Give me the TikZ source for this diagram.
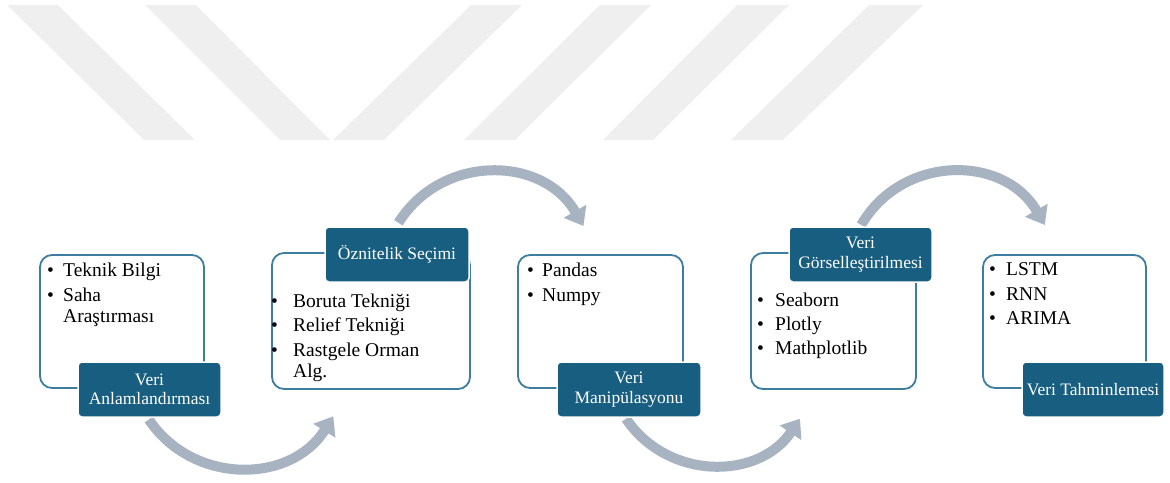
\documentclass[tikz,border=0pt]{standalone}
\usepackage{fontspec}
\setmainfont{Liberation Serif}
\usetikzlibrary{arrows.meta}

\definecolor{titlefill}{RGB}{23,94,128}
\definecolor{frameblue}{RGB}{60,125,160}
\definecolor{flowgrey}{RGB}{167,179,193}
\definecolor{markgrey}{RGB}{239,239,239}

% bullet line and its continuation line, with the text indent as option
\newcommand{\bitem}[2][16pt]{\makebox[#1][l]{•}#2}
\newcommand{\bcont}[2][16pt]{\hspace*{#1}#2}

\begin{document}
\begin{tikzpicture}[x=1pt,y=-1pt,
  listframe/.style={draw=frameblue,line width=1.8pt,rounded corners=12pt,fill=white,inner sep=0pt},
  titlebox/.style={fill=titlefill,draw=white,line width=1.5pt,rounded corners=4pt,inner sep=0pt,
    text=white,align=center,font=\fontsize{17.5}{19.5}\selectfont},
  listtext/.style={anchor=north west,inner sep=0pt,align=left,font=\fontsize{19.5}{21}\selectfont},
  flowarrow/.style={draw=flowgrey,line width=10pt,-{Triangle[width=25pt,length=17pt]}},
  wmark/.style={fill=markgrey}
]
\useasboundingbox (0,0) rectangle (1170,482);

% slanted bars in the header
\fill[wmark] (7,5) -- (58,5) -- (195,140) -- (144,140) -- cycle;
\fill[wmark] (145,5) -- (196,5) -- (330,140) -- (280,140) -- cycle;
\fill[wmark] (471,5) -- (522,5) -- (384,140) -- (333,140) -- cycle;
\fill[wmark] (600,5) -- (651,5) -- (515,140) -- (464,140) -- cycle;
\fill[wmark] (737,5) -- (789,5) -- (653,140) -- (603,140) -- cycle;
\fill[wmark] (869,5) -- (923,5) -- (783,140) -- (731,140) -- cycle;

% curved flow arrows between the steps
\coordinate (f1a) at (148.8,419.5);
\coordinate (f1b) at (333.3,416.3);
\coordinate (f2a) at (398.4,222.8);
\coordinate (f2b) at (583.5,226);
\coordinate (f3a) at (626,418.7);
\coordinate (f3b) at (800,418.7);
\coordinate (f4a) at (861.2,225);
\coordinate (f4b) at (1044.8,225);
\draw[flowarrow] (f1a) .. controls (193.3,485.5) and (291.1,483.8) .. (f1b);
\draw[flowarrow] (f2a) .. controls (441.6,153.7) and (542.7,155.4) .. (f2b);
\draw[flowarrow] (f3a) .. controls (667.6,480.4) and (758.4,480.4) .. (f3b);
\draw[flowarrow] (f4a) .. controls (902,154.3) and (1004,154.3) .. (f4b);

% list frames
\node[listframe,minimum width=164,minimum height=133] (b1) at (122,321.5) {};
\node[listframe,minimum width=198,minimum height=136] (b2) at (371,321) {};
\node[listframe,minimum width=165,minimum height=133] (b3) at (600.5,321.5) {};
\node[listframe,minimum width=165,minimum height=136] (b4) at (833.5,321) {};
\node[listframe,minimum width=163,minimum height=133] (b5) at (1064.5,321.5) {};

% list contents
\node[listtext] (l1) at (47,262.7) {\bitem{Teknik Bilgi}\\[4pt]\bitem{Saha}\\\bcont{Araştırması}};
\node[listtext] (l2) at (271,293.7) {\bitem[22pt]{Boruta Tekniği}\\[3.5pt]\bitem[22pt]{Relief Tekniği}\\[3.5pt]\bitem[22pt]{Rastgele Orman}\\\bcont[22pt]{Alg.}};
\node[listtext] (l3) at (527,262.7) {\bitem[15pt]{Pandas}\\[4pt]\bitem[15pt]{Numpy}};
\node[listtext] (l4) at (757,292.7) {\bitem[18pt]{Seaborn}\\[3pt]\bitem[18pt]{Plotly}\\[3pt]\bitem[18pt]{Mathplotlib}};
\node[listtext] (l5) at (989,262.7) {\bitem[17pt]{LSTM}\\[3.5pt]\bitem[17pt]{RNN}\\[3.5pt]\bitem[17pt]{ARIMA}};

% step titles
\node[titlebox,minimum width=143,minimum height=55] (t1) at (149.5,389.5) {Veri\\Anlamlandırması};
\node[titlebox,minimum width=144,minimum height=55] (t2) at (397,254.5) {Öznitelik Seçimi};
\node[titlebox,minimum width=144,minimum height=55] (t3) at (629,389.5) {Veri\\Manipülasyonu};
\node[titlebox,minimum width=143,minimum height=55] (t4) at (860.5,254.5) {Veri\\Görselleştirilmesi};
\node[titlebox,minimum width=142,minimum height=55] (t5) at (1093,389.5) {Veri Tahminlemesi};
\end{tikzpicture}
\end{document}
